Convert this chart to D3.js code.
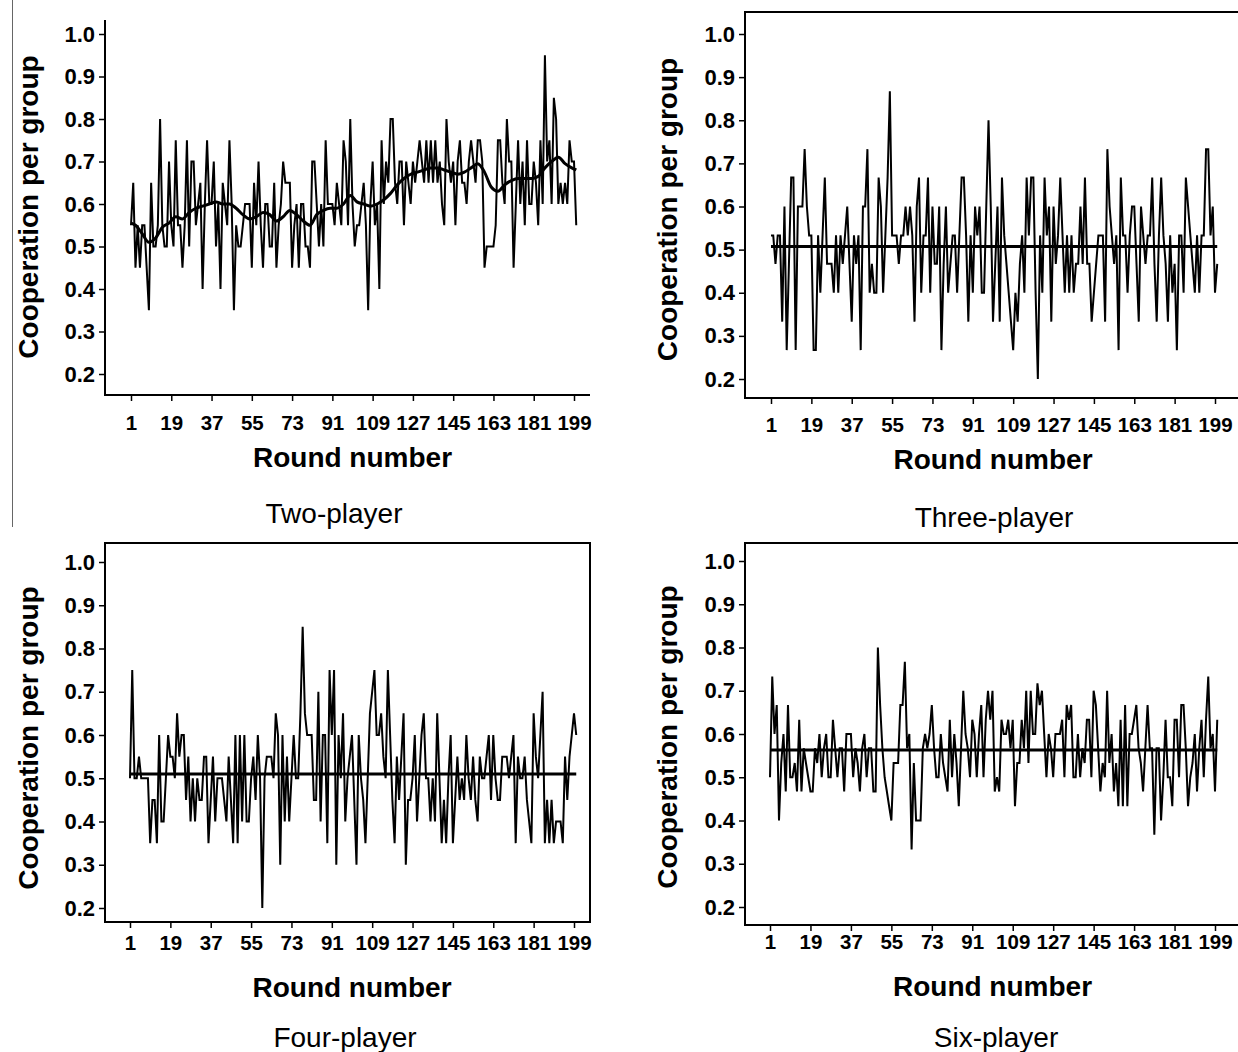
<!DOCTYPE html>
<html>
<head>
<meta charset="utf-8">
<script src="https://cdn.jsdelivr.net/npm/d3@7"></script>
<style>
  body { margin: 0; background: #fff; }
  svg text { font-family: "Liberation Sans", Arial, sans-serif; fill: #000; }
</style>
</head>
<body>
<svg id="fig" width="1238" height="1052"></svg>
<script>
// ---- data -------------------------------------------------------------
const xTickValues = [1, 19, 37, 55, 73, 91, 109, 127, 145, 163, 181, 199];
const yTickValues = [0.2, 0.3, 0.4, 0.5, 0.6, 0.7, 0.8, 0.9, 1.0];
const panelTitles = ["Two-player", "Three-player", "Four-player", "Six-player"];

// mean cooperation per group, rounds 1..200
const twoPlayer = [
  0.55,0.65,0.45,0.55,0.45,0.55,0.55,0.45,0.35,0.65,
  0.5,0.5,0.55,0.8,0.55,0.5,0.5,0.7,0.55,0.5,
  0.75,0.55,0.55,0.45,0.55,0.75,0.5,0.7,0.7,0.55,
  0.6,0.65,0.4,0.6,0.75,0.6,0.6,0.7,0.5,0.6,
  0.4,0.65,0.6,0.55,0.75,0.6,0.35,0.55,0.5,0.5,
  0.55,0.6,0.6,0.6,0.45,0.65,0.55,0.7,0.55,0.45,
  0.6,0.6,0.5,0.5,0.65,0.45,0.55,0.6,0.7,0.65,
  0.65,0.65,0.45,0.55,0.6,0.45,0.6,0.6,0.5,0.5,
  0.45,0.7,0.7,0.6,0.5,0.6,0.5,0.75,0.6,0.6,
  0.6,0.55,0.65,0.6,0.55,0.75,0.7,0.55,0.8,0.6,
  0.5,0.55,0.55,0.6,0.65,0.55,0.35,0.6,0.7,0.55,
  0.6,0.4,0.75,0.6,0.7,0.65,0.8,0.8,0.65,0.6,
  0.7,0.7,0.55,0.7,0.65,0.6,0.7,0.65,0.7,0.75,
  0.7,0.65,0.75,0.65,0.75,0.65,0.75,0.65,0.7,0.6,
  0.55,0.8,0.7,0.65,0.7,0.55,0.7,0.75,0.65,0.65,
  0.6,0.7,0.75,0.7,0.65,0.75,0.75,0.7,0.45,0.5,
  0.5,0.5,0.5,0.55,0.75,0.75,0.65,0.6,0.8,0.7,
  0.7,0.45,0.6,0.75,0.6,0.7,0.55,0.75,0.6,0.6,
  0.7,0.65,0.55,0.75,0.6,0.95,0.7,0.75,0.6,0.85,
  0.8,0.6,0.65,0.6,0.65,0.6,0.75,0.7,0.7,0.55
];

// smoothed two-player trend
const twoPlayerTrendRounds = [1,3,6,9,12,15,18,21,24,27,30,33,36,39,42,45,48,51,54,57,60,63,66,69,72,75,78,81,84,87,90,93,96,99,102,105,108,111,114,117,120,123,126,129,132,135,138,141,144,147,150,153,156,159,162,165,168,171,174,177,180,183,186,189,192,195,198,200];
const twoPlayerTrend = [0.555,0.55,0.53,0.51,0.52,0.545,0.555,0.57,0.565,0.58,0.59,0.595,0.6,0.605,0.6,0.6,0.59,0.575,0.565,0.57,0.58,0.575,0.56,0.57,0.585,0.575,0.56,0.55,0.575,0.585,0.59,0.59,0.6,0.62,0.605,0.6,0.595,0.6,0.61,0.625,0.645,0.66,0.67,0.675,0.68,0.685,0.685,0.68,0.675,0.67,0.675,0.685,0.695,0.675,0.64,0.63,0.645,0.655,0.66,0.66,0.66,0.665,0.685,0.7,0.71,0.695,0.685,0.68];

const threePlayer = [
  0.533,0.533,0.467,0.533,0.533,0.333,0.6,0.267,0.467,0.667,
  0.667,0.267,0.6,0.6,0.6,0.733,0.6,0.533,0.533,0.267,
  0.267,0.533,0.4,0.533,0.667,0.467,0.467,0.467,0.4,0.533,
  0.4,0.533,0.467,0.533,0.6,0.467,0.333,0.533,0.467,0.533,
  0.267,0.6,0.6,0.733,0.4,0.467,0.4,0.4,0.667,0.6,
  0.4,0.533,0.667,0.867,0.533,0.533,0.533,0.467,0.533,0.533,
  0.6,0.533,0.6,0.533,0.333,0.6,0.667,0.4,0.533,0.533,
  0.667,0.4,0.6,0.467,0.467,0.6,0.267,0.467,0.6,0.4,
  0.467,0.533,0.533,0.4,0.533,0.667,0.667,0.533,0.333,0.533,
  0.4,0.6,0.533,0.6,0.4,0.4,0.6,0.8,0.6,0.333,
  0.467,0.6,0.333,0.667,0.533,0.467,0.4,0.333,0.267,0.4,
  0.333,0.467,0.533,0.4,0.667,0.533,0.667,0.667,0.4,0.2,
  0.533,0.4,0.667,0.533,0.6,0.333,0.6,0.467,0.533,0.667,
  0.533,0.4,0.533,0.4,0.533,0.4,0.467,0.467,0.6,0.467,
  0.667,0.467,0.467,0.333,0.4,0.467,0.533,0.533,0.533,0.333,
  0.733,0.6,0.533,0.467,0.533,0.267,0.667,0.533,0.533,0.4,
  0.533,0.6,0.6,0.467,0.333,0.6,0.533,0.467,0.533,0.533,
  0.667,0.467,0.333,0.533,0.667,0.533,0.467,0.333,0.533,0.4,
  0.467,0.267,0.533,0.533,0.4,0.667,0.6,0.533,0.467,0.4,
  0.533,0.4,0.533,0.533,0.733,0.733,0.533,0.6,0.4,0.467
];
const threePlayerMean = 0.507;

const fourPlayer = [
  0.5,0.75,0.5,0.5,0.55,0.5,0.5,0.5,0.5,0.35,
  0.45,0.45,0.35,0.6,0.4,0.4,0.5,0.6,0.55,0.55,
  0.5,0.65,0.55,0.6,0.6,0.45,0.55,0.4,0.5,0.4,
  0.5,0.45,0.45,0.55,0.55,0.35,0.45,0.55,0.4,0.5,
  0.5,0.5,0.45,0.4,0.55,0.45,0.35,0.6,0.35,0.6,
  0.4,0.6,0.4,0.4,0.5,0.55,0.45,0.6,0.5,0.2,
  0.5,0.55,0.55,0.55,0.5,0.65,0.6,0.3,0.6,0.4,
  0.55,0.4,0.5,0.6,0.5,0.5,0.65,0.85,0.65,0.6,
  0.6,0.6,0.45,0.45,0.7,0.4,0.6,0.6,0.35,0.75,
  0.6,0.75,0.3,0.6,0.5,0.65,0.4,0.5,0.55,0.6,
  0.45,0.3,0.6,0.5,0.45,0.35,0.5,0.65,0.7,0.75,
  0.6,0.6,0.65,0.55,0.5,0.75,0.6,0.45,0.35,0.55,
  0.45,0.55,0.65,0.3,0.45,0.45,0.5,0.6,0.4,0.5,
  0.6,0.65,0.5,0.5,0.4,0.5,0.4,0.65,0.5,0.35,
  0.45,0.35,0.5,0.6,0.35,0.45,0.55,0.45,0.5,0.45,
  0.6,0.5,0.45,0.55,0.45,0.4,0.55,0.5,0.5,0.55,
  0.6,0.45,0.6,0.5,0.45,0.45,0.55,0.55,0.55,0.5,
  0.55,0.6,0.35,0.55,0.5,0.5,0.55,0.45,0.4,0.35,
  0.65,0.55,0.5,0.6,0.7,0.35,0.45,0.35,0.45,0.35,
  0.4,0.4,0.4,0.35,0.55,0.45,0.55,0.6,0.65,0.6
];
const fourPlayerMean = 0.51;

const sixPlayer = [
  0.5,0.733,0.6,0.667,0.4,0.533,0.6,0.467,0.667,0.5,
  0.5,0.533,0.467,0.633,0.467,0.567,0.533,0.5,0.467,0.467,
  0.567,0.533,0.6,0.5,0.567,0.6,0.5,0.5,0.633,0.567,
  0.5,0.567,0.567,0.467,0.6,0.6,0.6,0.5,0.567,0.533,
  0.467,0.567,0.6,0.5,0.567,0.567,0.467,0.467,0.8,0.667,
  0.567,0.5,0.467,0.433,0.4,0.533,0.533,0.533,0.667,0.667,
  0.767,0.567,0.6,0.333,0.533,0.4,0.4,0.4,0.567,0.6,
  0.567,0.6,0.667,0.567,0.5,0.5,0.6,0.533,0.5,0.467,
  0.633,0.5,0.6,0.533,0.433,0.567,0.7,0.6,0.567,0.5,
  0.633,0.6,0.5,0.6,0.667,0.5,0.633,0.7,0.633,0.7,
  0.467,0.5,0.467,0.633,0.6,0.6,0.633,0.567,0.633,0.433,
  0.533,0.533,0.633,0.567,0.7,0.533,0.7,0.6,0.6,0.717,
  0.667,0.7,0.6,0.5,0.6,0.567,0.5,0.6,0.6,0.6,
  0.633,0.5,0.667,0.633,0.667,0.5,0.5,0.6,0.5,0.567,
  0.533,0.633,0.633,0.5,0.7,0.667,0.567,0.467,0.533,0.5,
  0.7,0.533,0.6,0.467,0.533,0.433,0.633,0.433,0.667,0.433,
  0.6,0.6,0.633,0.667,0.567,0.533,0.467,0.567,0.667,0.567,
  0.567,0.367,0.567,0.567,0.4,0.5,0.633,0.5,0.5,0.433,
  0.633,0.633,0.5,0.667,0.667,0.567,0.433,0.5,0.533,0.6,
  0.467,0.567,0.633,0.5,0.633,0.733,0.567,0.6,0.467,0.633
];
const sixPlayerMean = 0.563;

// ---- layout -----------------------------------------------------------
const FONT = '"Liberation Sans", Arial, sans-serif';
const panels = [
  { title: panelTitles[0], values: twoPlayer, trend: true,
    left: 105, right: 590, top: 20, bottom: 395, yAt1: 34, yAt02: 374,
    xAt1: 131, xAt199: 574, yLabelX: 38, xTickY: 430, xTitleY: 467, titleY: 523, titleX: 334,
    frame: "none" },
  { title: panelTitles[1], values: threePlayer, mean: threePlayerMean,
    left: 745, right: 1240, top: 12, bottom: 398, yAt1: 34, yAt02: 379,
    xAt1: 771, xAt199: 1215, yLabelX: 677, xTickY: 432, xTitleY: 469, titleY: 527, titleX: 994,
    frame: "top" },
  { title: panelTitles[2], values: fourPlayer, mean: fourPlayerMean,
    left: 105, right: 590, top: 543, bottom: 922, yAt1: 562, yAt02: 908,
    xAt1: 130, xAt199: 574, yLabelX: 38, xTickY: 950, xTitleY: 997, titleY: 1047, titleX: 345,
    frame: "box" },
  { title: panelTitles[3], values: sixPlayer, mean: sixPlayerMean,
    left: 745, right: 1240, top: 543, bottom: 925, yAt1: 561, yAt02: 907,
    xAt1: 770, xAt199: 1215, yLabelX: 677, xTickY: 949, xTitleY: 996, titleY: 1047, titleX: 996,
    frame: "top" }
];

const svg = d3.select("#fig");

// thin rule along the left edge of the first panel
svg.append("line")
  .attr("x1", 12.5).attr("x2", 12.5).attr("y1", 0).attr("y2", 527)
  .attr("stroke", "#666").attr("stroke-width", 1);

panels.forEach(p => {
  const g = svg.append("g");
  const x = d3.scaleLinear().domain([1, 199]).range([p.xAt1, p.xAt199]);
  const y = d3.scaleLinear().domain([0.2, 1.0]).range([p.yAt02, p.yAt1]);

  // frame lines
  const axisStroke = 2;
  g.append("line").attr("x1", p.left).attr("x2", p.left).attr("y1", p.top).attr("y2", p.bottom + 1)
    .attr("stroke", "#000").attr("stroke-width", axisStroke);
  g.append("line").attr("x1", p.left - 1).attr("x2", p.right).attr("y1", p.bottom).attr("y2", p.bottom)
    .attr("stroke", "#000").attr("stroke-width", axisStroke);
  if (p.frame === "top" || p.frame === "box") {
    g.append("line").attr("x1", p.left - 1).attr("x2", p.right).attr("y1", p.top).attr("y2", p.top)
      .attr("stroke", "#000").attr("stroke-width", axisStroke);
  }
  if (p.frame === "box") {
    g.append("line").attr("x1", p.right).attr("x2", p.right).attr("y1", p.top - 1).attr("y2", p.bottom + 1)
      .attr("stroke", "#000").attr("stroke-width", axisStroke);
  }

  // y axis
  const yAxis = d3.axisLeft(y).tickValues(yTickValues).tickFormat(d3.format(".1f"))
    .tickSize(6).tickPadding(4);
  const ya = g.append("g").attr("transform", `translate(${p.left},0)`).call(yAxis);
  ya.select(".domain").remove();
  ya.selectAll(".tick line").attr("stroke", "#000").attr("stroke-width", 1.5);
  ya.selectAll(".tick text").attr("font-family", FONT).attr("font-weight", "bold")
    .attr("font-size", 22).attr("fill", "#000");

  // x axis
  const xAxis = d3.axisBottom(x).tickValues(xTickValues).tickFormat(d3.format("d"))
    .tickSize(6).tickPadding(4);
  const xa = g.append("g").attr("transform", `translate(0,${p.bottom})`).call(xAxis);
  xa.select(".domain").remove();
  xa.selectAll(".tick line").attr("stroke", "#000").attr("stroke-width", 1.5);
  xa.selectAll(".tick text").attr("font-family", FONT).attr("font-weight", "bold")
    .attr("font-size", 20.5).attr("fill", "#000")
    .attr("dy", null).attr("y", p.xTickY - p.bottom);

  // series line
  const line = d3.line().x((d, i) => x(i + 1)).y(d => y(d));
  g.append("path").datum(p.values)
    .attr("d", line).attr("fill", "none").attr("stroke", "#000")
    .attr("stroke-width", 2).attr("stroke-linejoin", "miter").attr("stroke-miterlimit", 3);

  if (p.trend) {
    const tl = d3.line().x((d, i) => x(twoPlayerTrendRounds[i])).y(d => y(d)).curve(d3.curveMonotoneX);
    g.append("path").datum(twoPlayerTrend)
      .attr("d", tl).attr("fill", "none").attr("stroke", "#000").attr("stroke-width", 3);
  }
  if (p.mean !== undefined) {
    g.append("line")
      .attr("x1", x(1)).attr("x2", x(p.values.length))
      .attr("y1", y(p.mean)).attr("y2", y(p.mean))
      .attr("stroke", "#000").attr("stroke-width", 3);
  }

  // axis titles
  const yMid = (y(0.2) + y(1.0)) / 2 + 3;
  g.append("text")
    .attr("transform", `translate(${p.yLabelX},${yMid}) rotate(-90)`)
    .attr("text-anchor", "middle").attr("font-family", FONT).attr("font-weight", "bold")
    .attr("font-size", 28).text("Cooperation per group");
  g.append("text")
    .attr("x", (p.xAt1 + p.xAt199) / 2).attr("y", p.xTitleY)
    .attr("text-anchor", "middle").attr("font-family", FONT).attr("font-weight", "bold")
    .attr("font-size", 28).text("Round number");
  g.append("text")
    .attr("x", p.titleX).attr("y", p.titleY)
    .attr("text-anchor", "middle").attr("font-family", FONT)
    .attr("font-size", 28).text(p.title);
});
</script>
</body>
</html>
